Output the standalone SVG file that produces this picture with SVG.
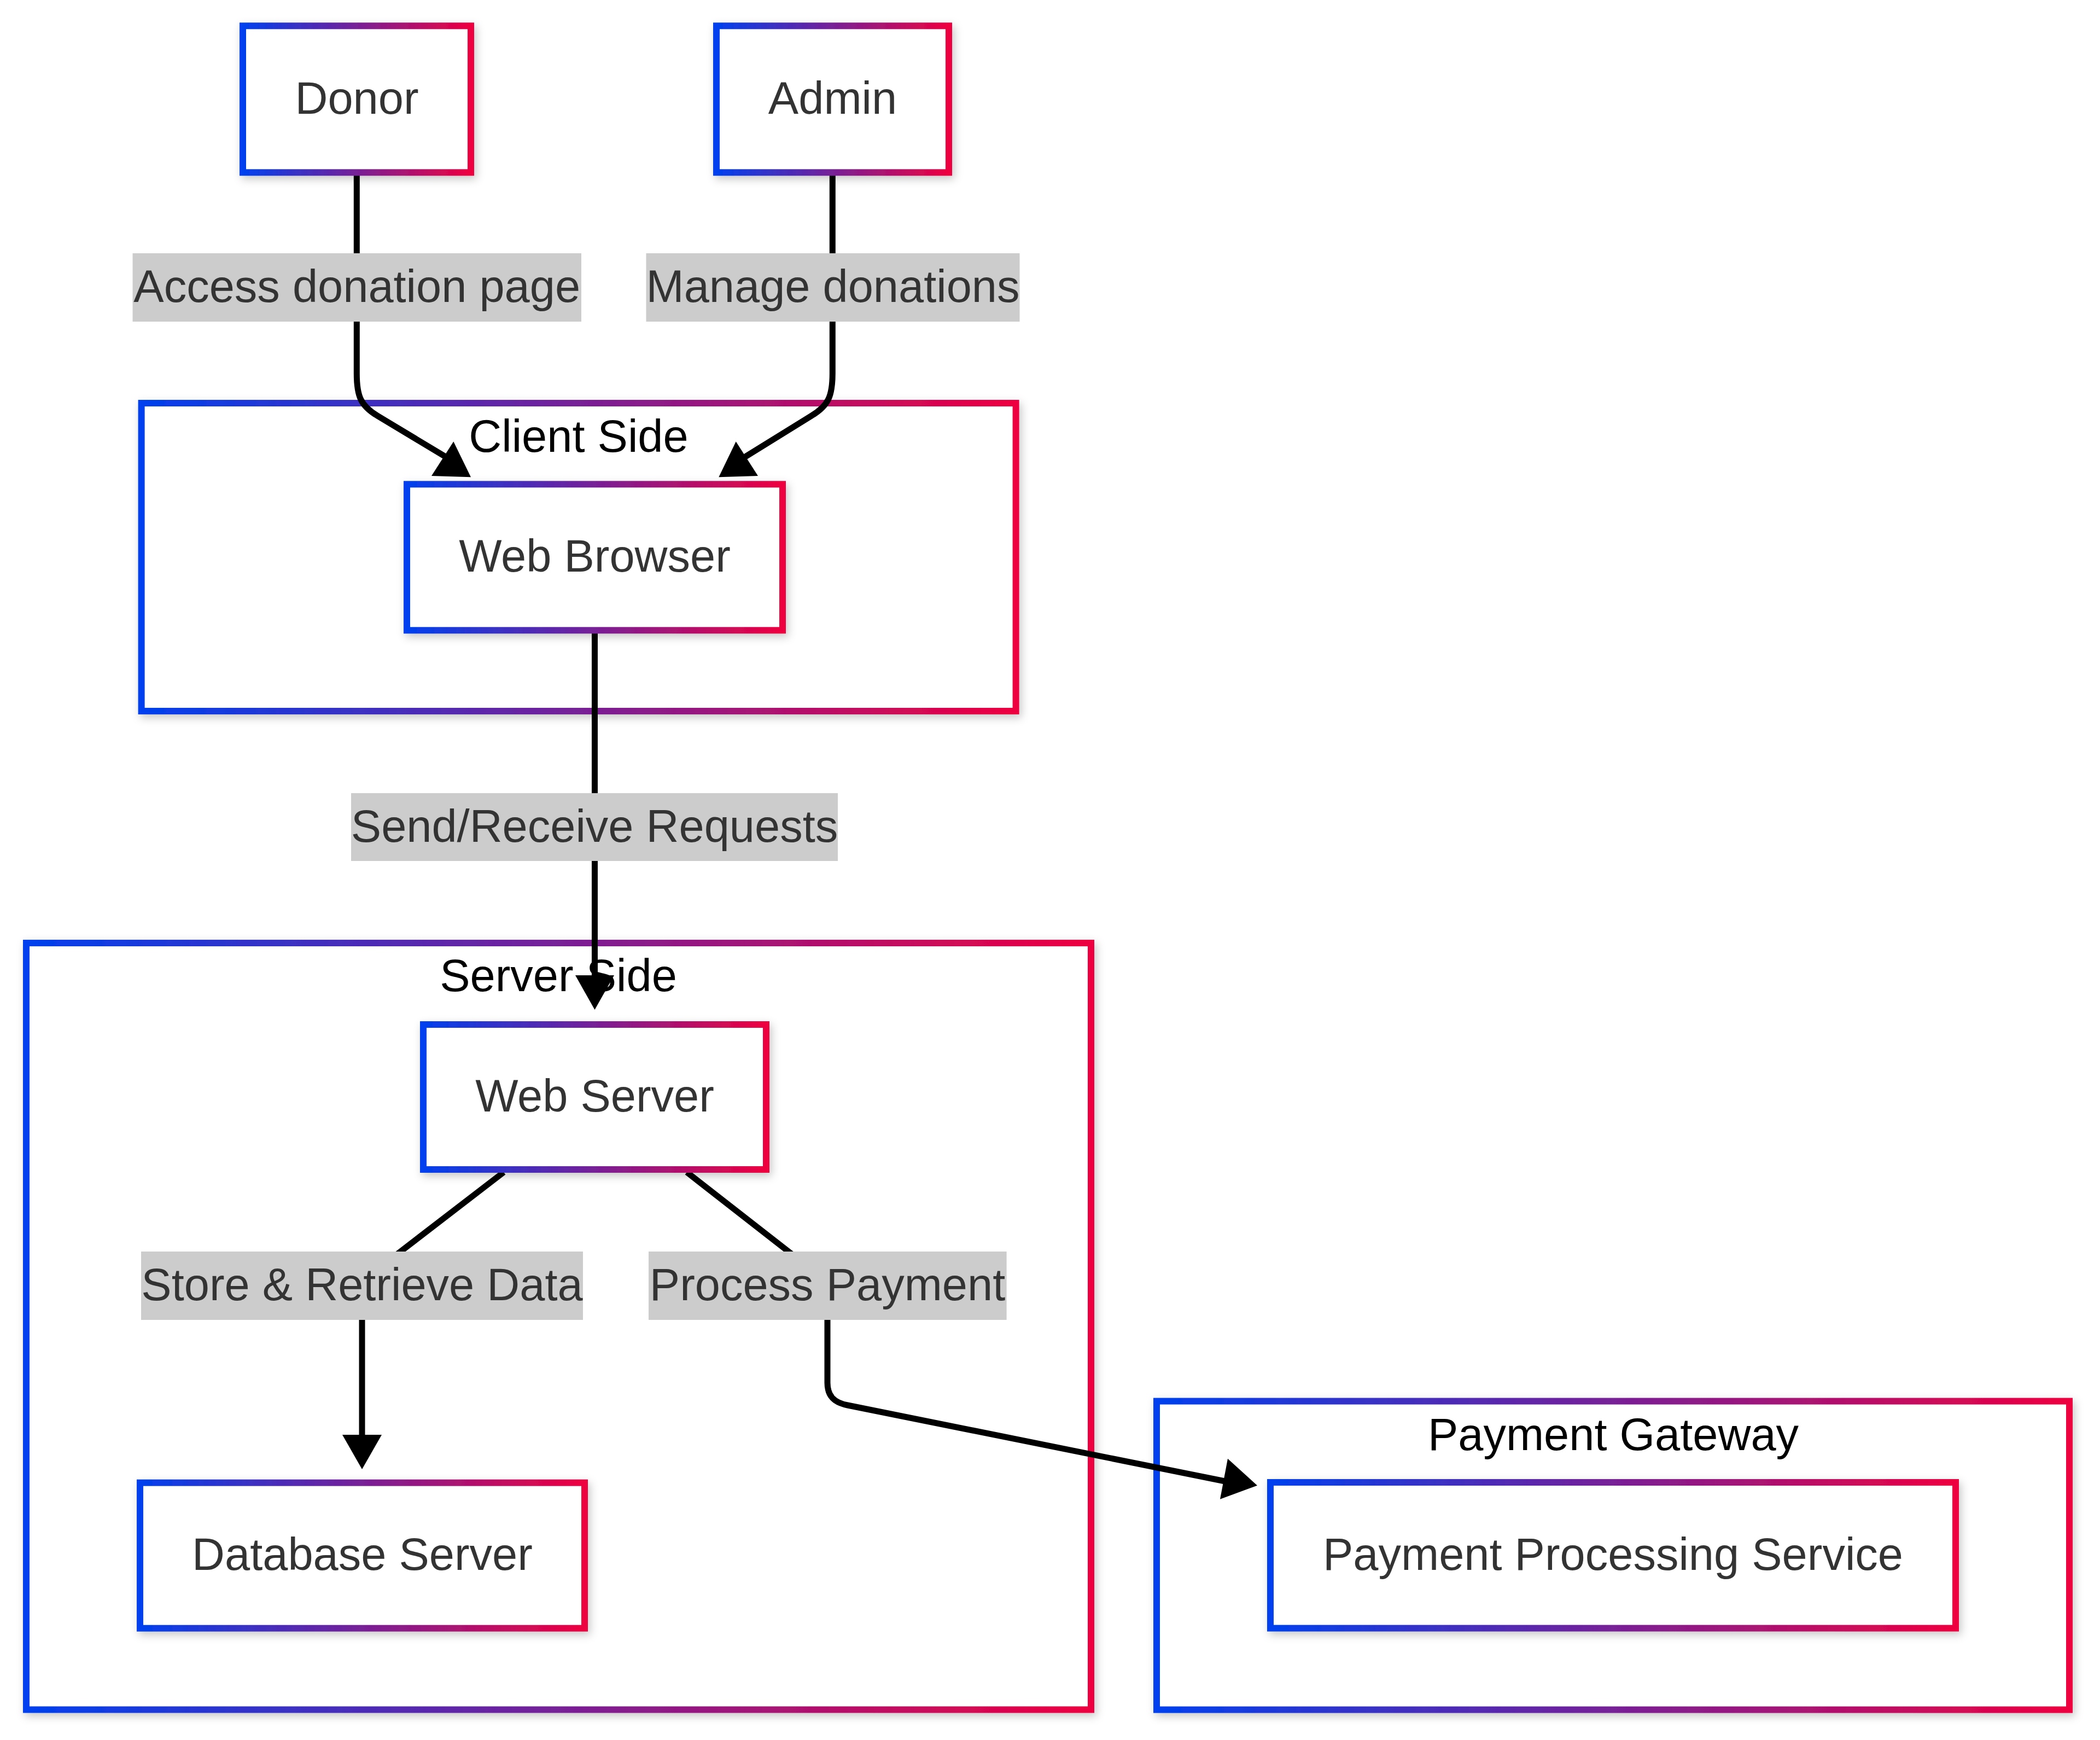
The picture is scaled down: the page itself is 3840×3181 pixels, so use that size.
<svg xmlns="http://www.w3.org/2000/svg" width="3840" height="3181" viewBox="0 0 3840 3181">
<defs>
<linearGradient id="grad" x1="0" y1="0" x2="1" y2="0">
<stop offset="0" stop-color="#0040ee"/>
<stop offset="1" stop-color="#ee0040"/>
</linearGradient>
<filter id="shadow" x="-10%" y="-10%" width="120%" height="130%">
<feDropShadow dx="4" dy="6" stdDeviation="8" flood-color="#000" flood-opacity="0.22"/>
</filter>
</defs>
<style>
.box{fill:#ffffff;stroke:url(#grad);stroke-width:12;filter:url(#shadow);}
.ntext{font-family:"Liberation Sans",Arial,sans-serif;font-size:83px;fill:#333333;text-anchor:middle;}
.ctext{font-family:"Liberation Sans",Arial,sans-serif;font-size:83px;fill:#000000;text-anchor:middle;}
.edge{fill:none;stroke:#000000;stroke-width:11;}
.head{fill:#000000;stroke:none;}
.lbg{fill:#cccccc;}
</style>
<rect x="0" y="0" width="3840" height="3181" fill="#ffffff"/>
<g id="clusters">
<g id="cluster-client">
<rect class="box" x="258.6" y="737" width="1599" height="563"/>
<text class="ctext" x="1058" y="826">Client Side</text>
</g>
<g id="cluster-server">
<rect class="box" x="48" y="1724" width="1947" height="1401.5"/>
<text class="ctext" x="1021" y="1812">Server Side</text>
</g>
<g id="cluster-payment">
<rect class="box" x="2115" y="2561.6" width="1669" height="564"/>
<text class="ctext" x="2950" y="2651">Payment Gateway</text>
</g>
</g>
<g id="connectors">
<path class="edge" d="M652.3,321 V683 C652.3,725 660,742 690,760 L818,837"/>
<polygon class="head" points="829.3,807.3 789,870 861,872.3"/>
<path class="edge" d="M1522.3,321 V683 C1522.3,725 1514,742 1484,760 L1358,838"/>
<polygon class="head" points="1345.7,807.3 1314.3,872.3 1386,870"/>
<path class="edge" d="M1087.5,1157 V1790"/>
<polygon class="head" points="1052,1783 1123,1783 1087.5,1846"/>
<path class="edge" d="M921,2143 L700,2313 C668,2338 662,2345 662,2370 V2628"/>
<polygon class="head" points="626,2623 698,2623 662,2686"/>
<path class="edge" d="M1256,2143 L1470,2310 C1505,2338 1513,2350 1513,2380 V2528 C1513,2552 1525,2564 1550,2569 L2240,2708"/>
<polygon class="head" points="2245,2666.7 2299,2715.7 2231,2740.7"/>
</g>
<g id="edge-labels">
<g id="label-access">
<rect class="lbg" x="242.5" y="463" width="820.5" height="125"/>
<text class="ntext" x="652.7" y="552">Access donation page</text>
</g>
<g id="label-manage">
<rect class="lbg" x="1181.5" y="463" width="683" height="125"/>
<text class="ntext" x="1523" y="552">Manage donations</text>
</g>
<g id="label-send">
<rect class="lbg" x="642" y="1450" width="890" height="124"/>
<text class="ntext" x="1087" y="1539">Send/Receive Requests</text>
</g>
<g id="label-store">
<rect class="lbg" x="258" y="2288" width="808" height="125"/>
<text class="ntext" x="662" y="2377">Store &amp; Retrieve Data</text>
</g>
<g id="label-process">
<rect class="lbg" x="1186" y="2288" width="654.6" height="125"/>
<text class="ntext" x="1513" y="2377">Process Payment</text>
</g>
</g>
<g id="node-donor">
<rect class="box" x="444" y="47.3" width="417" height="268"/>
<text class="ntext" x="652.5" y="208">Donor</text>
</g>
<g id="node-admin">
<rect class="box" x="1310" y="47.3" width="425" height="268"/>
<text class="ntext" x="1522.5" y="208">Admin</text>
</g>
<g id="node-webbrowser">
<rect class="box" x="744" y="885.3" width="687" height="267"/>
<text class="ntext" x="1087.5" y="1045">Web Browser</text>
</g>
<g id="node-webserver">
<rect class="box" x="774" y="1873" width="627" height="265"/>
<text class="ntext" x="1087.5" y="2032">Web Server</text>
</g>
<g id="node-database">
<rect class="box" x="256" y="2710.7" width="813" height="266"/>
<text class="ntext" x="662.5" y="2870">Database Server</text>
</g>
<g id="node-payment">
<rect class="box" x="2323" y="2710" width="1253" height="266.6"/>
<text class="ntext" x="2949.5" y="2870">Payment Processing Service</text>
</g>
</svg>
